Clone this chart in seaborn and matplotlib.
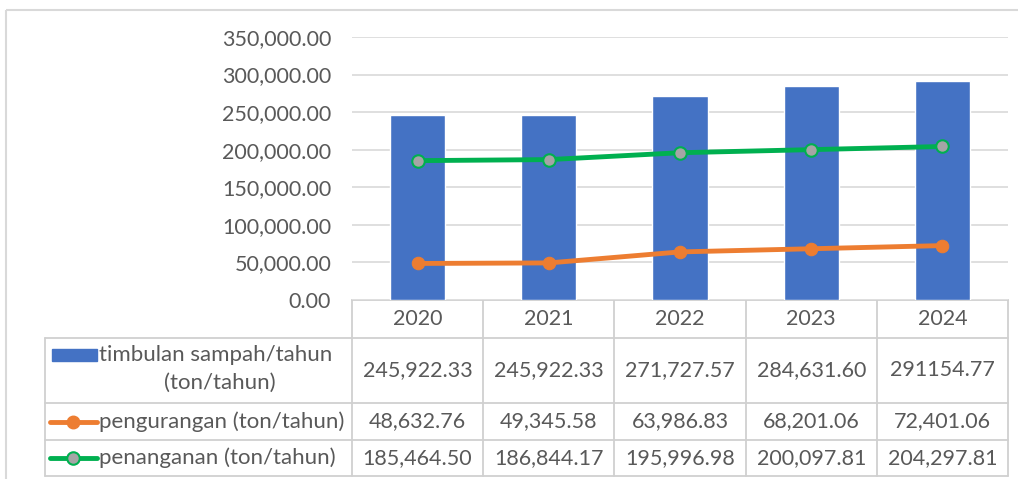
import seaborn as sns
import pandas as pd
import matplotlib.pyplot as plt
from matplotlib.patches import Rectangle

years = ["2020", "2021", "2022", "2023", "2024"]
timbulan = [245922.33, 245922.33, 271727.57, 284631.60, 291154.77]
pengurangan = [48632.76, 49345.58, 63986.83, 68201.06, 72401.06]
penanganan = [185464.50, 186844.17, 195996.98, 200097.81, 204297.81]
timbulan_txt = ["245,922.33", "245,922.33", "271,727.57", "284,631.60", "291154.77"]
pengurangan_txt = ["48,632.76", "49,345.58", "63,986.83", "68,201.06", "72,401.06"]
penanganan_txt = ["185,464.50", "186,844.17", "195,996.98", "200,097.81", "204,297.81"]
row_labels = ["timbulan sampah/tahun", "(ton/tahun)", "pengurangan (ton/tahun)", "penanganan (ton/tahun)"]
yticks = [0, 50000, 100000, 150000, 200000, 250000, 300000, 350000]

df = pd.DataFrame({"year": years, "timbulan": timbulan,
                   "pengurangan": pengurangan, "penanganan": penanganan})

sns.set_theme(style="white")
plt.rcParams["font.family"] = ["Lato", "DejaVu Sans"]
txt_color = "#595959"
grid_color = "#D9D9D9"
blue, orange, green, grey = "#4472C4", "#ED7D31", "#00B050", "#A5A5A5"
W, H = 1018, 479
fs = 15.5

fig = plt.figure(figsize=(W / 100, H / 100), dpi=100)
ax = fig.add_axes([352 / W, 1 - 300 / H, 656 / W, 263 / H])

sns.barplot(data=df, x="year", y="timbulan", color=blue, width=0.42, saturation=1, ax=ax)
sns.lineplot(x=range(len(years)), y=pengurangan, color=orange, lw=3.5, marker="o",
             markersize=9, markeredgecolor=orange, markerfacecolor=orange, ax=ax)
sns.lineplot(x=range(len(years)), y=penanganan, color=green, lw=3.5, marker="o",
             markersize=9, markeredgecolor=green, markerfacecolor=grey, markeredgewidth=1.5, ax=ax)

ax.set_xlim(-0.5, len(years) - 0.5)
ax.set_ylim(0, 350000)
ax.set_yticks(yticks)
ax.set_yticklabels([f"{v:,.2f}" for v in yticks], color=txt_color, fontsize=fs)
ax.tick_params(axis="y", length=0, pad=15)
ax.set_xticks([])
ax.set_xlabel("")
ax.set_ylabel("")
ax.yaxis.grid(True, color=grid_color, lw=1.2)
ax.set_axisbelow(True)
for s in ax.spines.values():
    s.set_visible(False)

# overlay in pixel coords for the data table
ov = fig.add_axes([0, 0, 1, 1], zorder=-1)
ov.set_xlim(0, W)
ov.set_ylim(H, 0)
ov.axis("off")
ov.add_patch(Rectangle((6, 10), W, H, fill=False, ec=grid_color, lw=1.5))

to_px = lambda xd: ax.transData.transform((xd, 0))[0]
col_edges = [to_px(i - 0.5) for i in range(len(years) + 1)]
row_edges = [300, 338, 403, 440, 476]
left = 45
tc = "#D0D0D0"
for y in row_edges[1:]:
    ov.plot([left, col_edges[-1]], [y, y], color=tc, lw=1.3)
ov.plot([col_edges[0], col_edges[-1]], [row_edges[0], row_edges[0]], color=tc, lw=1.3)
ov.plot([left, left], [row_edges[1], row_edges[-1]], color=tc, lw=1.3)
for x in col_edges:
    ov.plot([x, x], [row_edges[0], row_edges[-1]], color=tc, lw=1.3)

for i, yr in enumerate(years):
    cx = (col_edges[i] + col_edges[i + 1]) / 2
    ov.text(cx, (row_edges[0] + row_edges[1]) / 2, yr, ha="center", va="center", color=txt_color, fontsize=fs)
    for r, vals in enumerate([timbulan_txt, pengurangan_txt, penanganan_txt]):
        ov.text(cx, (row_edges[r + 1] + row_edges[r + 2]) / 2, vals[i], ha="center", va="center",
                color=txt_color, fontsize=fs)

# row headers with legend keys
lfs = 16
ov.add_patch(Rectangle((52, 349), 45, 12, color=blue))
ov.text(99, 355, row_labels[0], ha="left", va="center", color=txt_color, fontsize=lfs)
ov.text(220, 383, row_labels[1], ha="center", va="center", color=txt_color, fontsize=lfs)
y2 = (row_edges[2] + row_edges[3]) / 2
ov.plot([50, 97], [y2, y2], color=orange, lw=3.5)
ov.plot([73.5], [y2], marker="o", ms=9, color=orange)
ov.text(99, y2, row_labels[2], ha="left", va="center", color=txt_color, fontsize=lfs)
y3 = (row_edges[3] + row_edges[4]) / 2
ov.plot([50, 97], [y3, y3], color=green, lw=3.5)
ov.plot([73.5], [y3], marker="o", ms=9, mfc=grey, mec=green, mew=1.5)
ov.text(99, y3, row_labels[3], ha="left", va="center", color=txt_color, fontsize=lfs)

plt.savefig("out.png", dpi=100)
